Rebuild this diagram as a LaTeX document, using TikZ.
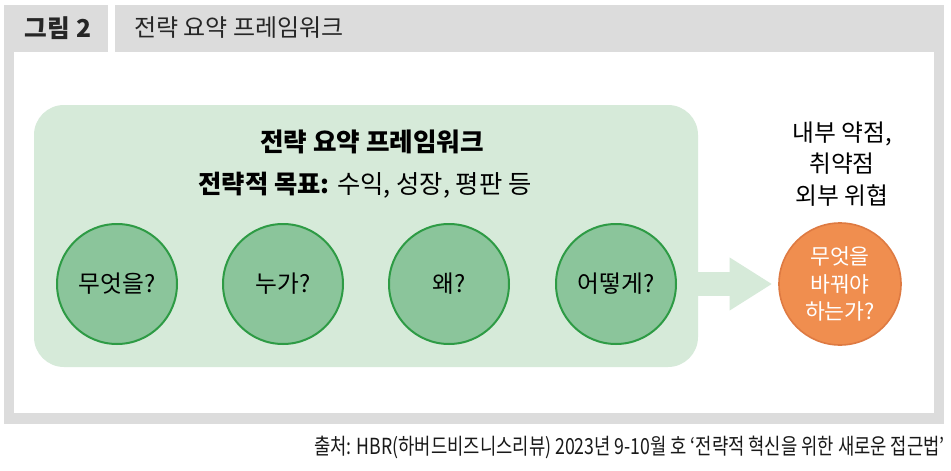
\documentclass[tikz,border=0pt]{standalone}
\usepackage{fontspec}
\usepackage{xcolor}
\setmainfont{Noto Sans CJK KR}
\newfontfamily\srcfont[FakeStretch=0.8]{Noto Sans CJK KR}
\usetikzlibrary{arrows.meta}
\definecolor{framegray}{RGB}{220,220,220}
\definecolor{boxgreen}{RGB}{214,234,217}
\definecolor{ballgreen}{RGB}{139,197,155}
\definecolor{ringgreen}{RGB}{46,155,69}
\definecolor{ballorange}{RGB}{240,142,79}
\definecolor{ringorange}{RGB}{222,122,66}

\begin{document}
\begin{tikzpicture}[x=0.75pt, y=-0.75pt,
    question/.style={circle, draw=ringgreen, line width=1.5pt, fill=ballgreen,
      minimum size=90pt, inner sep=0pt, font=\fontsize{17.8}{21}\selectfont},
    change/.style={circle, draw=ringorange, line width=1.2pt, fill=ballorange,
      minimum size=91.5pt, inner sep=0pt, text=white, align=center,
      font=\fontsize{16.2}{20.6}\selectfont},
    headtext/.style={font=\fontsize{18}{22}\selectfont, text=black!85}]
  \useasboundingbox (0,0) rectangle (951,471);
  % frame and header
  \fill[framegray] (4,5) rectangle (944,424);
  \fill[white] (108,5) rectangle (115,52);
  \fill[white] (14,52) rectangle (934,413);
  \node[headtext, font=\bfseries\fontsize{18.5}{22}\selectfont] (fig) at (58,28) {그림 2};
  \node[headtext, anchor=west, inner sep=0pt] (figtitle) at (134,28) {전략 요약 프레임워크};
  % framework box
  \node[fill=boxgreen, rounded corners=22.5pt, minimum width=498pt, minimum height=196.5pt] (box) at (366,236) {};
  \node[font=\bfseries\fontsize{19.2}{23}\selectfont] (title) at (372,142) {전략 요약 프레임워크};
  \node[font=\fontsize{19}{23}\selectfont] (goal) at (365,185) {\textbf{전략적 목표:} 수익, 성장, 평판 등};
  \node[question] (what) at (117,284) {무엇을?};
  \node[question] (who) at (283,284) {누가?};
  \node[question] (why) at (449,284) {왜?};
  \node[question] (how) at (616,284) {어떻게?};
  % result
  \node[change] (tochange) at (840,284) {무엇을\\바꿔야\\하는가?};
  \node[align=center, font=\fontsize{17.8}{23.6}\selectfont] (threat) at (842,164) {내부 약점,\\취약점\\외부 위협};
  \coordinate (tip) at ([xshift=-4.5pt]tochange.west);
  \draw[boxgreen, line width=18pt, -{Triangle[length=32pt, width=37.5pt]}]
    ([xshift=-6pt]box.east |- how.center) -- (tip);
  % source
  \node[anchor=east, inner sep=0pt, font=\srcfont\fontsize{16.6}{20}\selectfont, text=black!90] (source) at (945,447)
    {출처: HBR(하버드비즈니스리뷰) 2023년 9-10월 호 ‘전략적 혁신을 위한 새로운 접근법’};
\end{tikzpicture}
\end{document}
